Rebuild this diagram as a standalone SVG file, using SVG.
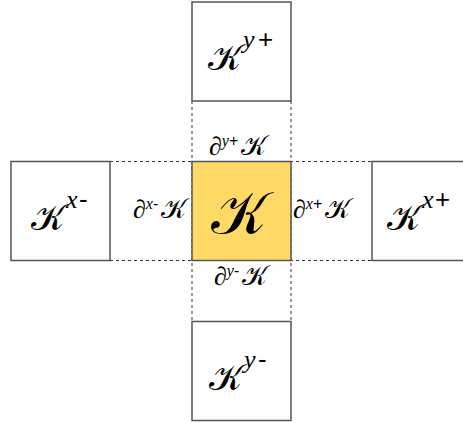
<svg xmlns="http://www.w3.org/2000/svg" width="463" height="423" viewBox="0 0 463 423">
<style>
.box{fill:#fff;stroke:#555;stroke-width:1.5}
.dash{stroke:#333;stroke-width:1;stroke-dasharray:3 3;fill:none}
.k{font-family:"DejaVu Serif","Noto Sans",serif;fill:#000}
.it{font-family:"Liberation Serif",serif;font-style:italic;fill:#000}
.pl{font-family:"Liberation Sans",sans-serif;fill:#000}
</style>
<rect width="463" height="423" fill="#fff"/>
<g id="connectors">
<line class="dash" x1="110" y1="161.5" x2="372" y2="161.5"/>
<line class="dash" x1="110" y1="260.5" x2="372" y2="260.5"/>
<line class="dash" x1="192" y1="101" x2="192" y2="321"/>
<line class="dash" x1="291" y1="101" x2="291" y2="321"/>
</g>
<g id="top">
<rect class="box" x="192" y="2" width="99" height="99"/>
<text class="k" x="208" y="70" font-size="36">𝒦</text>
<text class="it" x="243" y="48" font-size="26">y</text>
<text class="pl" x="258" y="48" font-size="26">+</text>
</g>
<g id="left">
<rect class="box" x="11" y="161.5" width="99" height="99"/>
<text class="k" x="31" y="230" font-size="36">𝒦</text>
<text class="it" x="66" y="208" font-size="26">x</text>
<text class="pl" x="79" y="208" font-size="26">-</text>
</g>
<g id="right">
<rect class="box" x="372" y="161.5" width="99" height="99"/>
<text class="k" x="387" y="230" font-size="36">𝒦</text>
<text class="it" x="422" y="208" font-size="26">x</text>
<text class="pl" x="435" y="208" font-size="26">+</text>
</g>
<g id="bottom">
<rect class="box" x="192" y="321.5" width="99" height="99"/>
<text class="k" x="209" y="390" font-size="36">𝒦</text>
<text class="it" x="244" y="368" font-size="26">y</text>
<text class="pl" x="258" y="368" font-size="26">-</text>
</g>
<g id="center">
<rect x="192" y="161.5" width="99" height="99" fill="#ffd966" stroke="#555" stroke-width="1.5"/>
<text class="k" x="211" y="234" font-size="60">𝒦</text>
</g>
<g id="labels">
<text x="209" y="155" font-size="26"><tspan class="it">∂</tspan><tspan class="it" font-size="16" dy="-9">y</tspan><tspan class="pl" font-size="16">+</tspan><tspan class="k" dy="9" dx="3" font-size="27">𝒦</tspan></text>
<text x="133" y="218" font-size="26"><tspan class="it">∂</tspan><tspan class="it" font-size="16" dy="-9">x</tspan><tspan class="pl" font-size="16">-</tspan><tspan class="k" dy="9" dx="3" font-size="27">𝒦</tspan></text>
<text x="293" y="218" font-size="26"><tspan class="it">∂</tspan><tspan class="it" font-size="16" dy="-9">x</tspan><tspan class="pl" font-size="16">+</tspan><tspan class="k" dy="9" dx="3" font-size="27">𝒦</tspan></text>
<text x="214" y="285" font-size="26"><tspan class="it">∂</tspan><tspan class="it" font-size="16" dy="-9">y</tspan><tspan class="pl" font-size="16">-</tspan><tspan class="k" dy="9" dx="3" font-size="27">𝒦</tspan></text>
</g>
</svg>
